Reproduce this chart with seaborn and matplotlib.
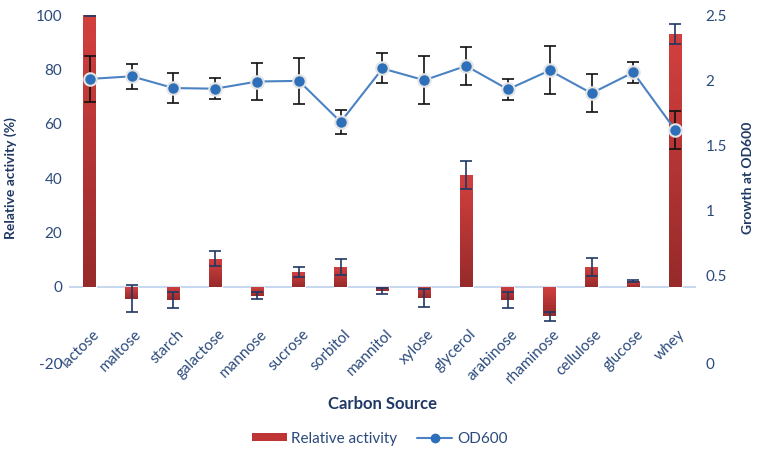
import matplotlib
matplotlib.use("Agg")
import matplotlib.pyplot as plt
import matplotlib.transforms as mtransforms
from matplotlib.colors import LinearSegmentedColormap
from matplotlib.lines import Line2D
from matplotlib.patches import Patch
import numpy as np
import pandas as pd
import seaborn as sns

CATEGORIES = ["lactose", "maltose", "starch", "galactose", "mannose", "sucrose",
              "sorbitol", "mannitol", "xylose", "glycerol", "arabinose",
              "rhaminose", "cellulose", "glucose", "whey"]
ACTIVITY = [100, -4.4, -5.0, 10.3, -3.3, 5.4, 7.2, -1.7, -4.2, 41.2, -4.8,
            -10.9, 7.2, 2.1, 92.9]
ACTIVITY_ERR = [0.3, 5.0, 3.0, 2.7, 1.2, 2.0, 3.0, 1.1, 3.4, 5.2, 3.0,
                1.6, 3.4, 0.3, 3.7]
OD600 = [2.01, 2.03, 1.94, 1.935, 1.99, 1.995, 1.68, 2.09, 2.0, 2.11, 1.93,
         2.075, 1.9, 2.06, 1.62]
OD600_ERR = [0.177, 0.095, 0.115, 0.08, 0.145, 0.178, 0.095, 0.115, 0.185,
             0.146, 0.078, 0.184, 0.144, 0.08, 0.144]
LEFT_TICKS = [-20, 0, 20, 40, 60, 80, 100]
RIGHT_TICKS = [0, 0.5, 1, 1.5, 2, 2.5]
RIGHT_LABELS = ["0", "0.5", "1", "1.5", "2", "2.5"]

BAR_COLOR = "#bf3535"
BAR_TOP = "#d2403e"
BAR_BOTTOM = "#972a2b"
LINE_COLOR = "#4a82c3"
MARKER_COLOR = "#2d6fb8"
TEXT_COLOR = "#2b4a7c"
LABEL_COLOR = "#1f3864"

sns.set_theme(style="white")
plt.rcParams["font.family"] = ["Lato", "DejaVu Sans"]

df = pd.DataFrame({"source": CATEGORIES, "activity": ACTIVITY,
                   "err": ACTIVITY_ERR, "od": OD600, "od_err": OD600_ERR})
pos = np.arange(len(CATEGORIES))

fig = plt.figure(figsize=(7.59, 4.5), dpi=100)
ax = fig.add_axes([0.0909, 0.2422, 0.8261, 0.7244])

sns.barplot(data=df, x="source", y="activity", color=BAR_COLOR, width=0.31,
            saturation=1, ax=ax, zorder=2)

# vertical shading on each bar, like the original
grad = LinearSegmentedColormap.from_list("bar", [BAR_BOTTOM, BAR_TOP])
for bar in ax.patches:
    x0, y0 = bar.get_x(), bar.get_y()
    w, h = bar.get_width(), bar.get_height()
    lo, hi = min(y0, y0 + h), max(y0, y0 + h)
    im = ax.imshow(np.linspace(0, 1, 64).reshape(-1, 1), cmap=grad,
                   extent=(x0, x0 + w, lo, hi), origin="lower", aspect="auto",
                   zorder=2.1)
    im.set_clip_path(bar)

ax.errorbar(pos, df["activity"], yerr=df["err"], fmt="none",
            ecolor=LABEL_COLOR, elinewidth=1.2, capsize=4, capthick=1.2, zorder=3)
ax.axhline(0, color="#c8d8ee", lw=1.5, zorder=1)

ax.set_ylim(-20, 100)
ax.set_xlim(-0.5, len(CATEGORIES) - 0.5)
ax.set_yticks(LEFT_TICKS)
ax.set_yticklabels([str(t) for t in LEFT_TICKS])
ax.set_xticks(pos)
ax.set_xticklabels(CATEGORIES, rotation=45, ha="right", va="top",
                   rotation_mode="anchor")
ax.tick_params(axis="x", length=0, pad=-10, labelsize=11, labelcolor=TEXT_COLOR)
ax.tick_params(axis="y", length=0, pad=5, labelsize=11, labelcolor=TEXT_COLOR)
for lab in ax.get_xticklabels():
    lab.set_transform(lab.get_transform() +
                      mtransforms.ScaledTranslation(0.03, 0, fig.dpi_scale_trans))
ax.set_xlabel("Carbon Source", fontsize=12, fontweight="bold", color=LABEL_COLOR)
ax.xaxis.set_label_coords(0.5, -0.17)
ax.set_ylabel("Relative activity (%)", fontsize=10, fontweight="bold",
              color=LABEL_COLOR, labelpad=13)

ax2 = ax.twinx()
sns.lineplot(x=pos, y=df["od"], ax=ax2, color=LINE_COLOR, lw=1.5, marker="o",
             markersize=9, markerfacecolor=MARKER_COLOR, markeredgecolor="#e4e4e4",
             markeredgewidth=1.5, zorder=4)
ax2.errorbar(pos, df["od"], yerr=df["od_err"], fmt="none", ecolor="#111111",
             elinewidth=1.2, capsize=4, capthick=1.2, zorder=3)
ax2.set_ylim(0, 2.5)
ax2.set_yticks(RIGHT_TICKS)
ax2.set_yticklabels(RIGHT_LABELS)
ax2.tick_params(axis="y", length=0, pad=7, labelsize=11, labelcolor=TEXT_COLOR)
ax2.set_ylabel("Growth at OD600", fontsize=10, fontweight="bold",
               color=LABEL_COLOR, labelpad=11)

# bottom value labels sit lower in the original
shift = mtransforms.ScaledTranslation(0, -0.22, fig.dpi_scale_trans)
for lab in [ax.get_yticklabels()[0], ax2.get_yticklabels()[0]]:
    lab.set_transform(lab.get_transform() + shift)

for a in (ax, ax2):
    for s in a.spines.values():
        s.set_visible(False)

handles = [Patch(facecolor=BAR_COLOR, edgecolor="none"),
           Line2D([0], [0], color=LINE_COLOR, lw=1.5, marker="o", markersize=6,
                  markerfacecolor=MARKER_COLOR, markeredgecolor=MARKER_COLOR)]
fig.legend(handles, ["Relative activity", "OD600"], loc="center",
           bbox_to_anchor=(0.5, 0.025), ncol=2, frameon=False, fontsize=11,
           labelcolor=TEXT_COLOR, handlelength=2.3, handleheight=0.45,
           columnspacing=1.3, handletextpad=0.3)

fig.savefig("out.png", dpi=100)
